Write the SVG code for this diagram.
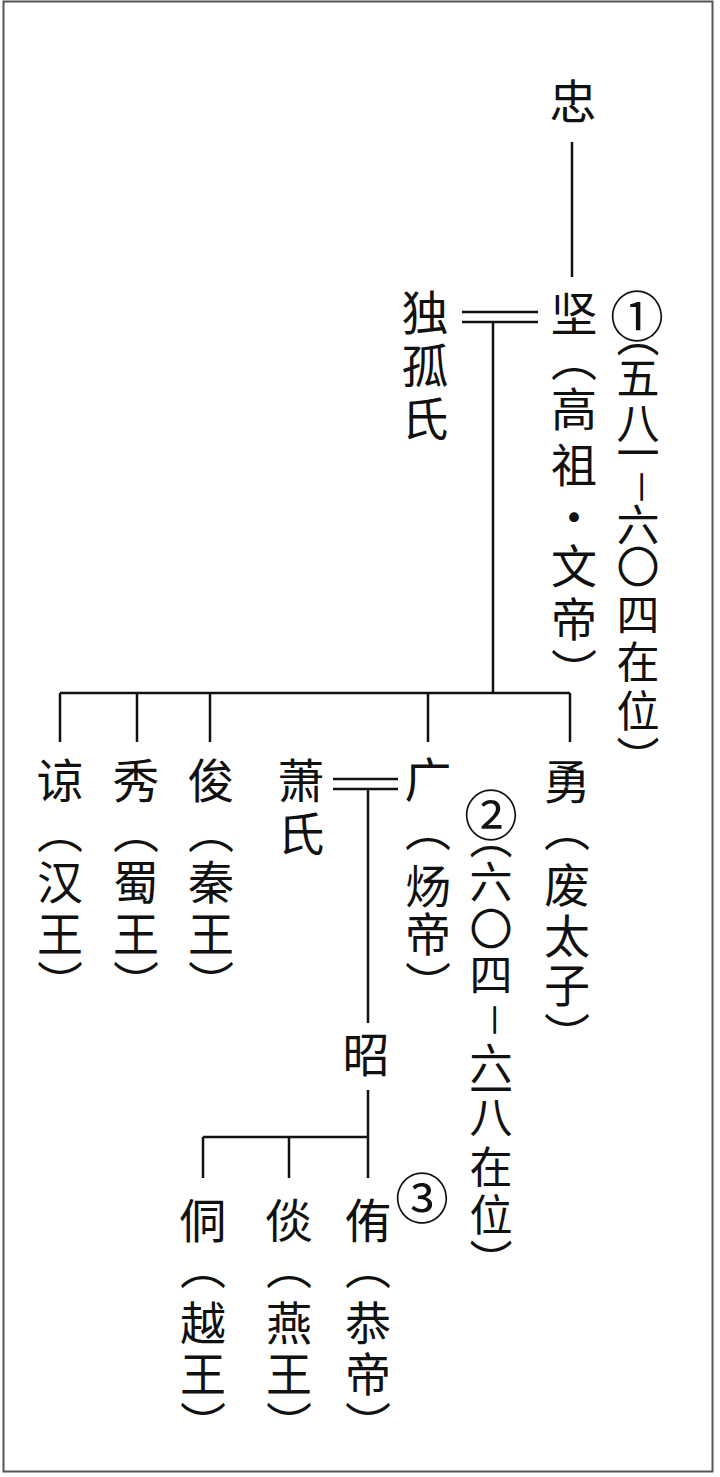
<svg xmlns="http://www.w3.org/2000/svg" width="720" height="1477" viewBox="0 0 720 1477">
<style>
.v{writing-mode:vertical-rl;text-anchor:middle;font-family:"Noto Sans CJK SC","Noto Sans CJK JP",sans-serif;fill:#111}
.n{font-size:47px}
.a{font-size:46px}
.r{font-size:43px}
.c{font-size:54px}
.d{font-size:38px}
.ln{stroke:#111;stroke-width:2.5;fill:none}
</style>
<rect x="3.5" y="1.5" width="709" height="1470" fill="#fff" stroke="#555" stroke-width="2"/>
<g id="connectors" class="ln">
<path d="M572 142V277"/>
<path d="M462 312H538M462 322H538"/>
<path d="M493 322V693"/>
<path d="M60 693H570"/>
<path d="M60 693V742M137 693V742M210 693V742M428 693V742M570 693V742"/>
<path d="M333 779H398M333 789H398"/>
<path d="M368 789V1023M368 1090V1178"/>
<path d="M203 1137H369"/>
<path d="M203 1137V1178M289 1137V1178"/>
</g>
<g id="n-zhong"><text class="v n" x="573" y="101">忠</text></g>
<g id="n-jian">
<text class="v n" x="574" y="313">坚</text>
<text class="v a" x="574" y="359 409 465 517 566 619 671">（高祖・文帝）</text>
<text class="v c" x="637" y="316">①</text>
<text class="v r" x="638 638 638 638 644 638 638 638 638 638 638" y="336 378 423 453 487 525 567 615 662 711 758">（五八一<tspan class="d">－</tspan>六〇四在位）</text>
</g>
<g id="n-dugu"><text class="v n" x="425" y="312 365 418">独孤氏</text></g>
<g id="n-liang">
<text class="v n" x="60" y="780">谅</text>
<text class="v a" x="60" y="831 882 934 983">（汉王）</text>
</g>
<g id="n-xiu">
<text class="v n" x="136" y="780">秀</text>
<text class="v a" x="136" y="831 882 934 983">（蜀王）</text>
</g>
<g id="n-jun">
<text class="v n" x="211" y="780">俊</text>
<text class="v a" x="211" y="831 882 934 983">（秦王）</text>
</g>
<g id="n-xiao"><text class="v n" x="301" y="780 833">萧氏</text></g>
<g id="n-guang">
<text class="v n" x="428" y="779">广</text>
<text class="v a" x="428" y="829 886 934 984">（炀帝）</text>
<text class="v c" x="491" y="815">②</text>
<text class="v r" x="491 491 491 491 497 491 491 491 491 491 491" y="838 882 929 975 1020 1064 1090 1117 1167 1215 1261">（六〇四<tspan class="d">－</tspan>六一八在位）</text>
</g>
<g id="n-yong">
<text class="v n" x="567" y="781">勇</text>
<text class="v a" x="567" y="829 885 936 985 1035">（废太子）</text>
</g>
<g id="n-zhao"><text class="v n" x="366" y="1054">昭</text></g>
<g id="n-tong">
<text class="v n" x="203" y="1220">侗</text>
<text class="v a" x="203" y="1267 1323 1374 1424">（越王）</text>
</g>
<g id="n-tan">
<text class="v n" x="289" y="1220">倓</text>
<text class="v a" x="289" y="1267 1323 1374 1424">（燕王）</text>
</g>
<g id="n-you">
<text class="v n" x="368" y="1220">侑</text>
<text class="v a" x="368" y="1267 1323 1374 1424">（恭帝）</text>
<text class="v c" x="422" y="1198">③</text>
</g>
</svg>
